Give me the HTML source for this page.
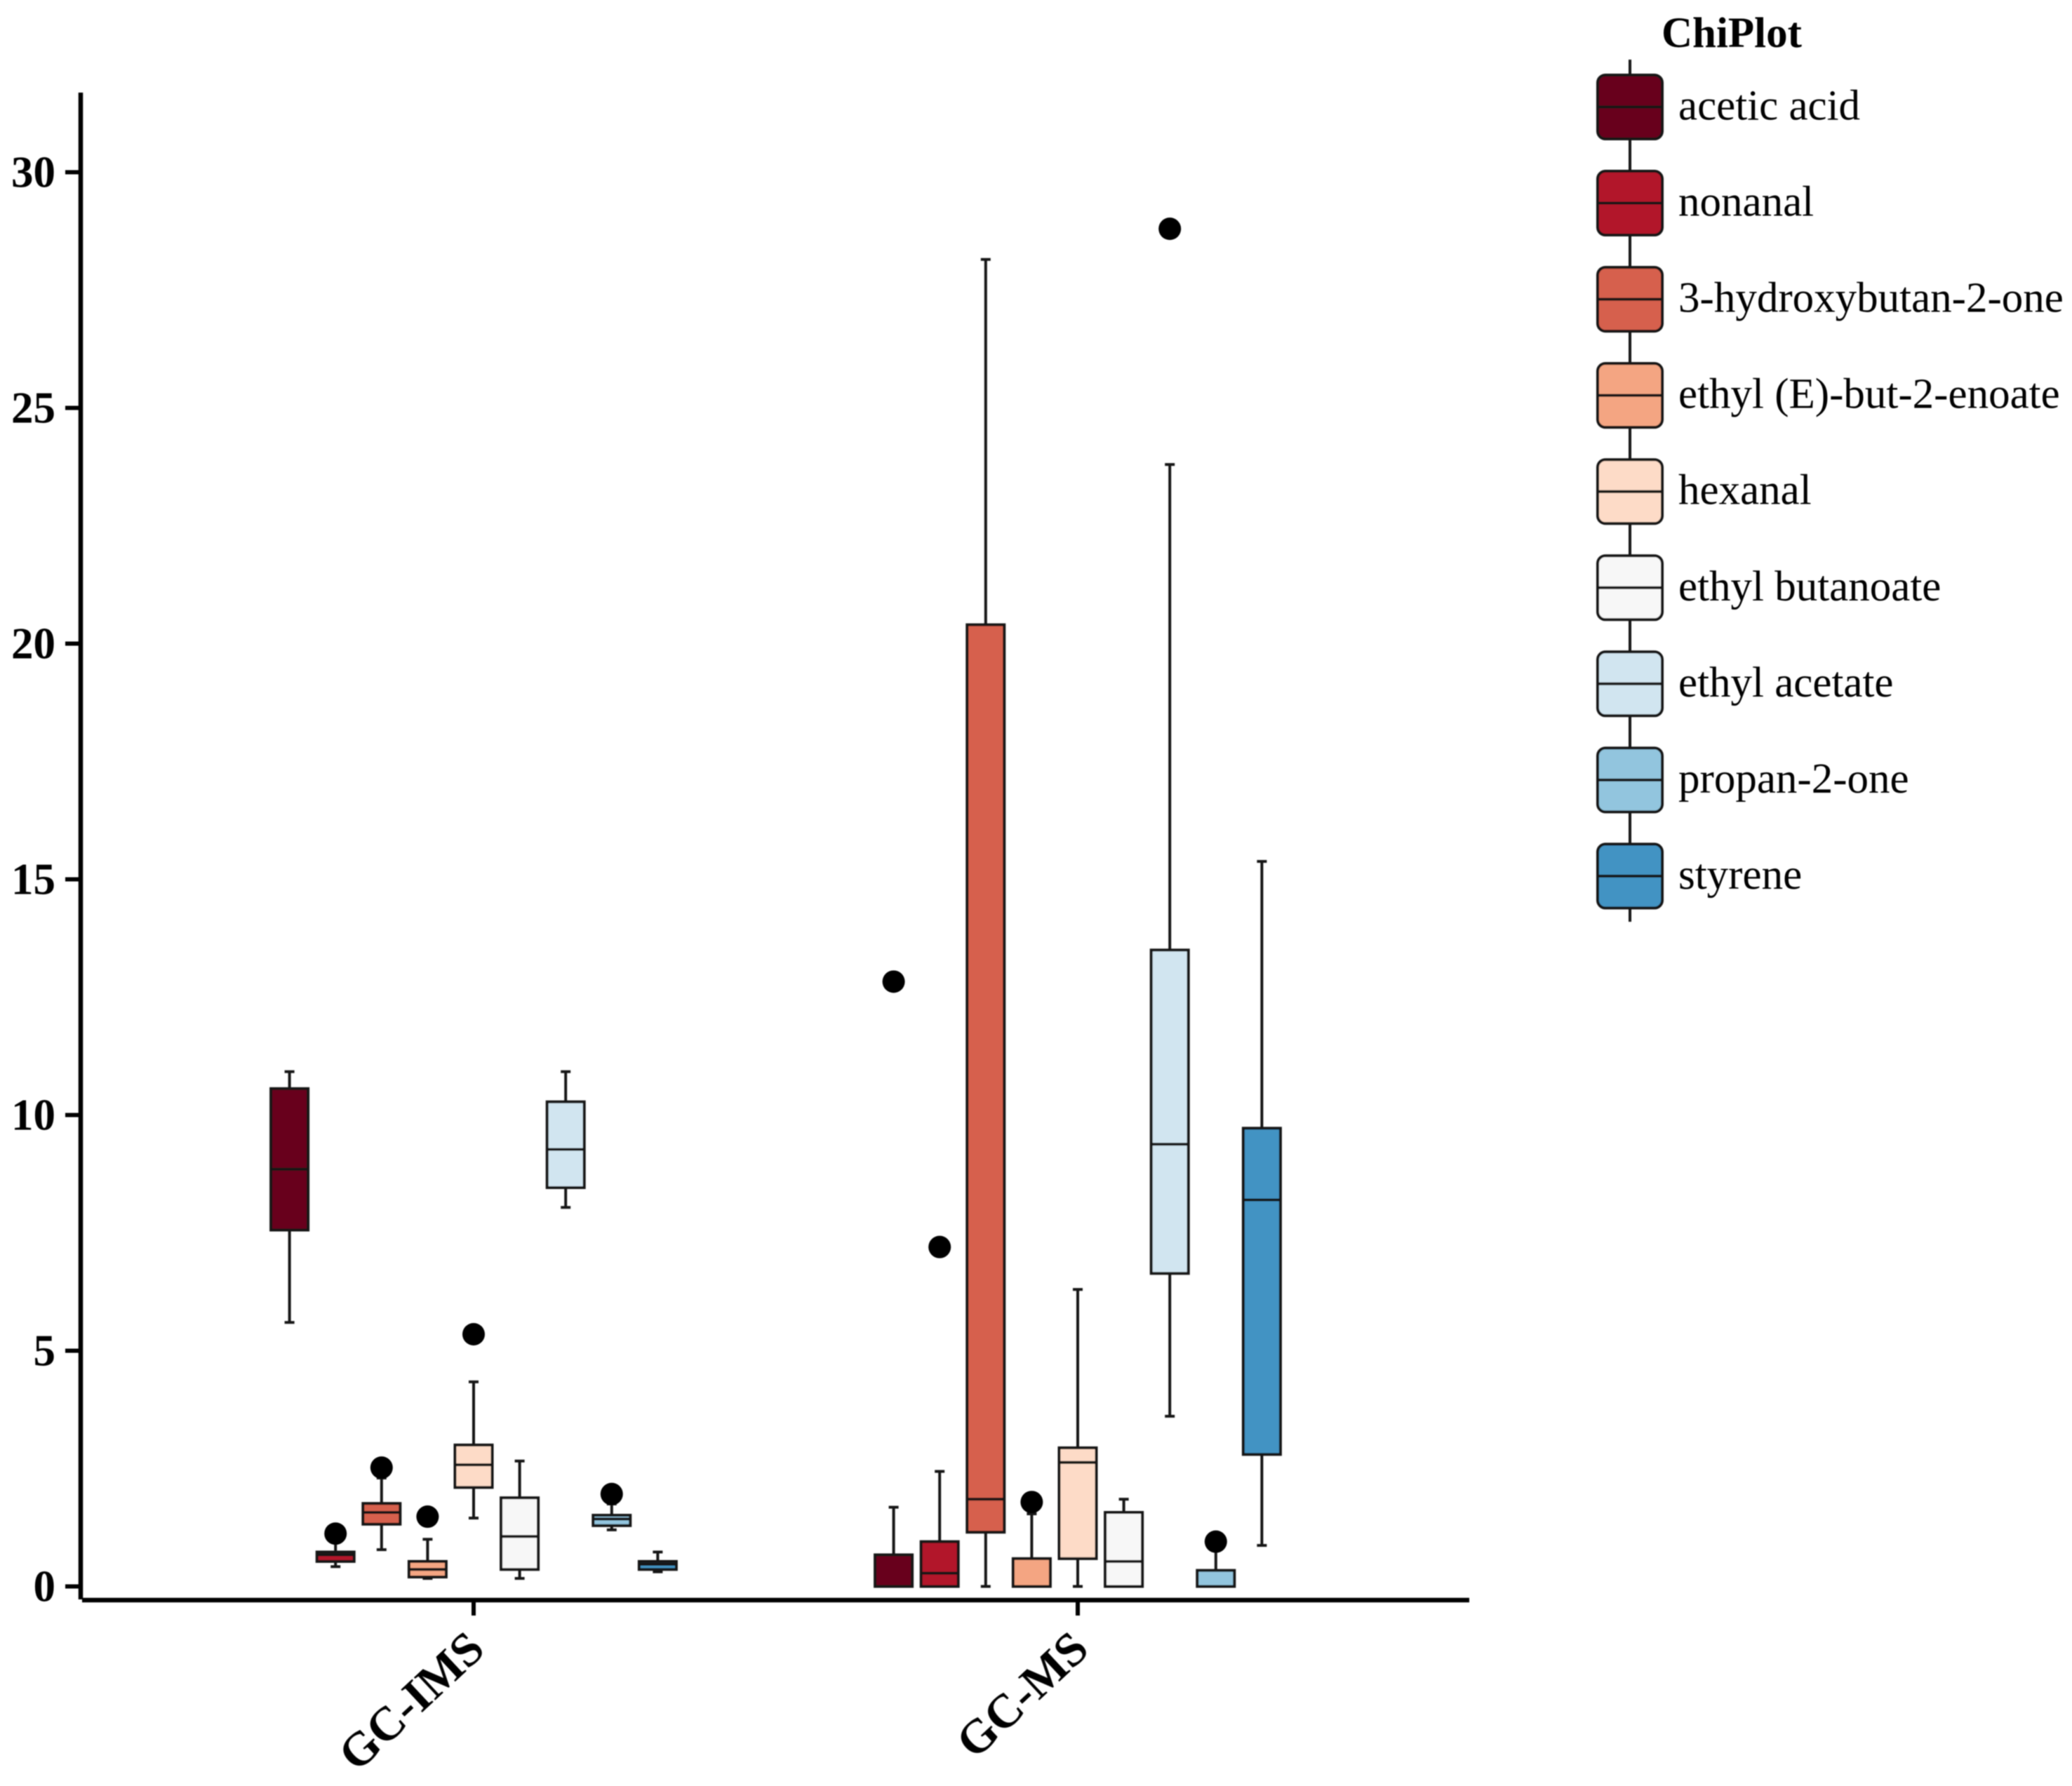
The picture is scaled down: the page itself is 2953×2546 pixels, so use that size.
<!DOCTYPE html>
<html lang="en">
<head>
<meta charset="utf-8">
<title>ChiPlot box plot</title>
<style>
html,body{margin:0;padding:0;background:#fff;}
svg{display:block;}
text{font-family:"Liberation Serif",serif;fill:#000;}
</style>
</head>
<body>
<svg id="chart" xmlns="http://www.w3.org/2000/svg" width="2953" height="2546" viewBox="0 0 2953 2546">
  <defs><filter id="soft" x="0" y="0" width="100%" height="100%"><feGaussianBlur stdDeviation="0.9"/></filter></defs>
  <rect x="0" y="0" width="2953" height="2546" fill="#fff"/>
  <g filter="url(#soft)">
  <g id="plot"></g>
  <g id="axes"></g>
  <g id="legend">
    <text x="2368" y="67" font-size="61" font-weight="bold">ChiPlot</text>
  </g>
  </g>
</svg>
<script>
const compounds = ["acetic acid","nonanal","3-hydroxybutan-2-one","ethyl (E)-but-2-enoate","hexanal","ethyl butanoate","ethyl acetate","propan-2-one","styrene"];
const swatches = ["#67001f","#b2182b","#d6604d","#f4a582","#fddbc7","#f7f7f7","#d1e5f0","#92c5de","#4393c3"];
const groups = ["GC-IMS","GC-MS"];
const yTickLabels = [0,5,10,15,20,25,30];

const imsLow     = [5.6, 0.42, 0.78, 0.17, 1.45, 0.17, 8.04, 1.2, 0.31];
const imsQ1      = [7.56, 0.53, 1.32, 0.2, 2.1, 0.36, 8.46, 1.29, 0.36];
const imsMedian  = [8.85, 0.67, 1.57, 0.36, 2.58, 1.06, 9.27, 1.43, 0.47];
const imsQ3      = [10.56, 0.73, 1.76, 0.53, 3.0, 1.88, 10.28, 1.51, 0.53];
const imsHigh    = [10.92, 0.95, 2.3, 1.0, 4.34, 2.66, 10.92, 1.75, 0.73];
const imsOutlier = [null, 1.12, 2.52, 1.48, 5.35, null, null, 1.96, null];

const msLow     = [0, 0, 0, 0, 0, 0, 3.61, 0, 0.87];
const msQ1      = [0, 0, 1.15, 0, 0.59, 0, 6.64, 0, 2.8];
const msMedian  = [0, 0.28, 1.85, 0, 2.63, 0.53, 9.38, 0, 8.2];
const msQ3      = [0.67, 0.95, 20.4, 0.59, 2.94, 1.57, 13.5, 0.34, 9.72];
const msHigh    = [1.68, 2.44, 28.15, 1.54, 6.3, 1.85, 23.8, 0.8, 15.38];
const msOutlier = [12.83, 7.2, null, 1.79, null, null, 28.8, 0.95, null];

const NS = "http://www.w3.org/2000/svg";
const INK = "#151515";
const yScale = v => 2261.5 - v * 67.2;
const xScale = (groupIndex, seriesIndex) => 675 + groupIndex * 861 + (seriesIndex - 4) * 65.6;
const BOX_W = 53, CAP_W = 14, LINE = 4;

function mk(tag, attrs, parent) {
  const el = document.createElementNS(NS, tag);
  for (const k in attrs) el.setAttribute(k, attrs[k]);
  parent.appendChild(el);
  return el;
}

const plot = document.getElementById("plot");
const axes = document.getElementById("axes");
const legend = document.getElementById("legend");

function drawGroup(g, low, q1, med, q3, high, outlier) {
  compounds.forEach((name, i) => {
    const cx = xScale(g, i);
    const slug = groups[g].toLowerCase() + "-" + i;

    const box = mk("g", {}, plot);
    
    

    const whisker = mk("line", {x1:cx, x2:cx, y1:yScale(low[i]), y2:yScale(high[i]), stroke:INK, "stroke-width":LINE}, box);
    
    

    [low[i], high[i]].forEach(v => {
      const cap = mk("line", {x1:cx-CAP_W/2, x2:cx+CAP_W/2, y1:yScale(v), y2:yScale(v), stroke:INK, "stroke-width":LINE}, box);
      
      
    });

    const body = mk("rect", {x:cx-BOX_W/2, y:yScale(q3[i]), width:BOX_W, height:yScale(q1[i])-yScale(q3[i]), fill:swatches[i], stroke:INK, "stroke-width":LINE}, box);
    
    

    const medLine = mk("line", {x1:cx-BOX_W/2, x2:cx+BOX_W/2, y1:yScale(med[i]), y2:yScale(med[i]), stroke:INK, "stroke-width":LINE}, box);
    
    

    if (outlier[i] !== null) {
      const dot = mk("circle", {cx:cx, cy:yScale(outlier[i]), r:16, fill:"#000"}, box);
      
      
    }
  });
}
drawGroup(0, imsLow, imsQ1, imsMedian, imsQ3, imsHigh, imsOutlier);
drawGroup(1, msLow, msQ1, msMedian, msQ3, msHigh, msOutlier);

const yAxisLine = mk("line", {x1:115, x2:115, y1:132, y2:2280, stroke:"#000", "stroke-width":6.5}, axes);



const xAxisLine = mk("line", {x1:117, x2:2094, y1:2281, y2:2281, stroke:"#000", "stroke-width":6.5}, axes);



yTickLabels.forEach(v => {
  const tick = mk("line", {x1:93, x2:115, y1:yScale(v), y2:yScale(v), stroke:"#000", "stroke-width":6}, axes);
  
  
  const label = mk("text", {x:79, y:yScale(v)+21, "text-anchor":"end", "font-size":63, "font-weight":"bold"}, axes);
  
  
  label.textContent = v;
});

groups.forEach((name, g) => {
  const cx = xScale(g, 4);
  const tick = mk("line", {x1:cx, x2:cx, y1:2281, y2:2303, stroke:"#000", "stroke-width":6}, axes);
  
  
  const lx = cx + 19, ly = 2355;
  const label = mk("text", {x:lx, y:ly, "text-anchor":"end", "font-size":68, "font-weight":"bold", transform:"rotate(-43 " + lx + " " + ly + ")"}, axes);
  
  
  label.textContent = name;
});

const LEG_X = 2277, LEG_W = 92, LEG_H = 91, LEG_Y0 = 152.5, LEG_STEP = 137.05;
const legendStem = mk("line", {x1:LEG_X+LEG_W/2, x2:LEG_X+LEG_W/2, y1:85, y2:1314, stroke:INK, "stroke-width":LINE}, legend);



compounds.forEach((name, i) => {
  const cy = LEG_Y0 + i * LEG_STEP;
  const entry = mk("g", {}, legend);
  
  

  const key = mk("rect", {x:LEG_X, y:cy-LEG_H/2, width:LEG_W, height:LEG_H, rx:11, ry:11, fill:swatches[i], stroke:INK, "stroke-width":LINE}, entry);
  
  

  const mid = mk("line", {x1:LEG_X, x2:LEG_X+LEG_W, y1:cy, y2:cy, stroke:INK, "stroke-width":LINE}, entry);
  
  

  const label = mk("text", {x:2392, y:cy+18, "font-size":61}, entry);
  
  
  label.textContent = name;
});
</script>
</body>
</html>
